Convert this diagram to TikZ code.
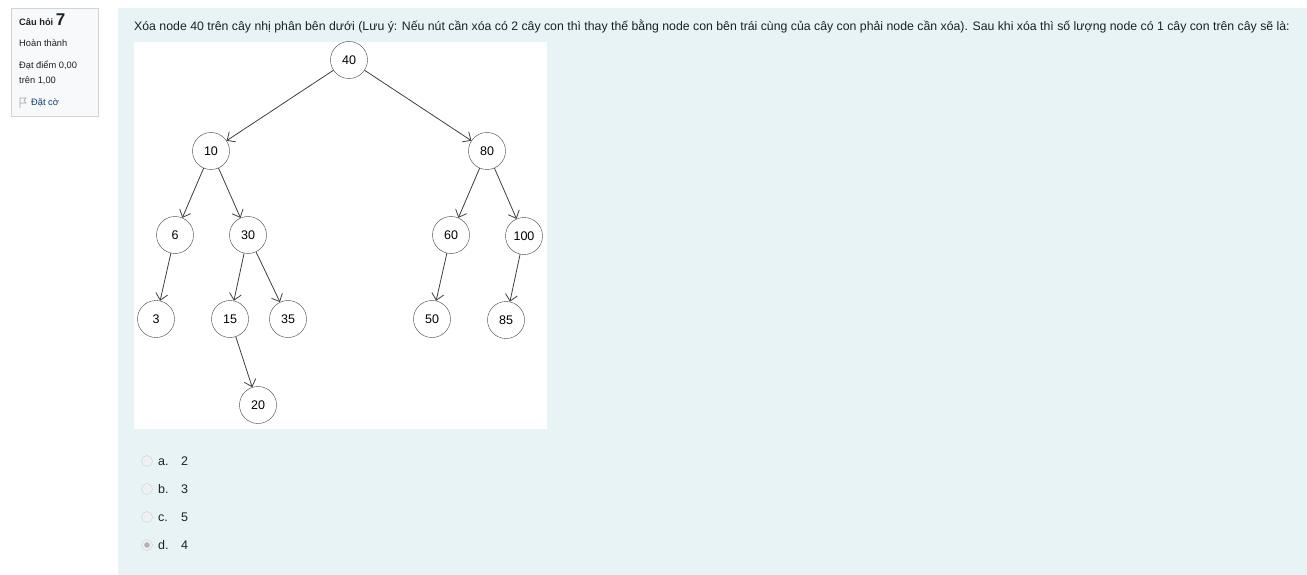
\documentclass[tikz,border=0pt]{standalone}
\usepackage{fontspec}
\setmainfont{Liberation Sans}
\usetikzlibrary{arrows.meta}
\definecolor{panelbg}{HTML}{E7F3F5}
\definecolor{infobg}{HTML}{F8F9FA}
\definecolor{infoline}{HTML}{D0D4D8}
\definecolor{textdark}{HTML}{1D2125}
\definecolor{linkblue}{HTML}{0F3E6E}
\definecolor{radiobg}{HTML}{EEF0F1}
\definecolor{radioline}{HTML}{CDD1D4}
\begin{document}
\begin{tikzpicture}[x=1pt,y=-1pt,
  main/.style = {draw=black!75, circle, fill=white, minimum size=37pt, inner sep=0pt, font=\fontsize{12.5}{14}\selectfont},
  link/.style = {-{Straight Barb[length=6.5pt,width=12pt]}, draw=black!75, line width=0.8pt},
  txt/.style = {anchor=base west, inner sep=0pt, text=textdark},
  radio/.style = {draw=radioline, fill=radiobg, circle, minimum size=11pt, inner sep=0pt}]
\useasboundingbox (0,0) rectangle (1307,575);
\fill[white] (0,0) rectangle (1307,575);
\fill[panelbg] (118,8) rectangle (1307,575);
\draw[infoline, fill=infobg] (11.5,8.5) rectangle (98.5,116.5);
\fill[white] (134,42) rectangle (547,429);

% info box
\node[txt, font=\bfseries\fontsize{9.3}{11}\selectfont] (qno) at (19,26) {Câu hỏi \fontsize{17}{19}\selectfont 7};
\node[txt, font=\fontsize{9.3}{11}\selectfont] (state) at (19,47) {Hoàn thành};
\node[txt, font=\fontsize{9.3}{11}\selectfont] (mark) at (19,69) {Đạt điểm 0,00};
\node[txt, font=\fontsize{9.3}{11}\selectfont] (outof) at (19,84) {trên 1,00};
\draw[gray!70, line width=0.6pt] (20,108) -- (20,98) -- (26,98) -- (24,100.5) -- (26,103) -- (20,103);
\node[txt, text=linkblue, font=\fontsize{9.3}{11}\selectfont] (flag) at (31,106) {Đặt cờ};

% question
\node[txt, font=\fontsize{12.3}{14}\selectfont] (question) at (134,31) {Xóa node 40 trên cây nhị phân bên dưới (Lưu ý: Nếu nút cần xóa có 2 cây con thì thay thế bằng node con bên trái cùng của cây con phải node cần xóa). Sau khi xóa thì số lượng node có 1 cây con trên cây sẽ là:};

% tree
\node[main] (40) at (349,60) {40};
\node[main] (10) at (211,151) {10};
\node[main] (80) at (487,151) {80};
\draw[link] (40) -- (10);
\draw[link] (40) -- (80);

\node[main] (6) at (175,235) {6};
\node[main] (30) at (248,235) {30};
\node[main] (60) at (451,235) {60};
\node[main] (100) at (524,236) {100};
\draw[link] (10) -- (6);
\draw[link] (10) -- (30);
\draw[link] (80) -- (60);
\draw[link] (80) -- (100);

\node[main] (3) at (156,319) {3};
\node[main] (15) at (230,319) {15};
\node[main] (35) at (288,319) {35};
\node[main] (50) at (432,319) {50};
\node[main] (85) at (506,320) {85};
\draw[link] (6) -- (3);
\draw[link] (30) -- (15);
\draw[link] (30) -- (35);
\draw[link] (60) -- (50);
\draw[link] (100) -- (85);

\node[main] (20) at (258,405) {20};
\draw[link] (15) -- (20);

% answers
\foreach \y/\lbl/\val [count=\i] in {461/a./2, 489/b./3, 517/c./5, 545/d./4} {
  \node[radio] (r\i) at (147,\y) {};
  \node[txt, font=\fontsize{12.5}{14}\selectfont] (l\i) at (158,\y+4.5) {\lbl};
  \node[txt, font=\fontsize{12.5}{14}\selectfont] (v\i) at (181,\y+4.5) {\val};
}
\fill[black!30] (r4) circle (2.8pt);
\end{tikzpicture}
\end{document}
